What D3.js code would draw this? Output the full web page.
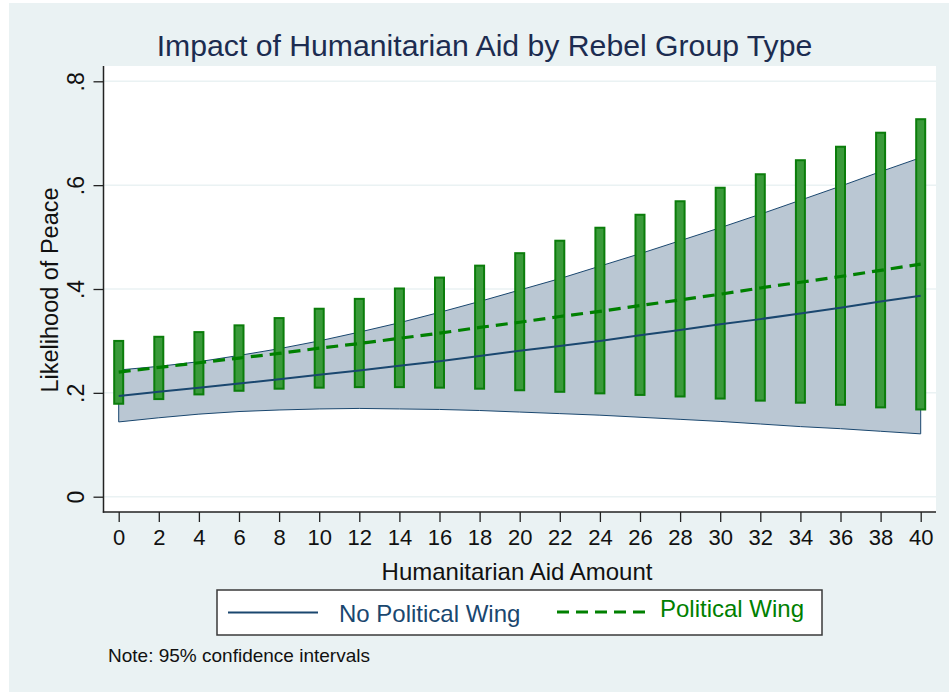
<!DOCTYPE html>
<html>
<head>
<meta charset="utf-8">
<script src="https://cdn.jsdelivr.net/npm/d3@7"></script>
<style>
  html, body { margin: 0; padding: 0; background: #ffffff; }
  svg { display: block; font-family: "Liberation Sans", Arial, Helvetica, sans-serif; }
</style>
</head>
<body>
<svg id="chart" width="949" height="692"></svg>
<script>
// Predicted probability of peace by humanitarian aid amount
const aidLevels = [0, 2, 4, 6, 8, 10, 12, 14, 16, 18, 20, 22, 24, 26, 28, 30, 32, 34, 36, 38, 40];

// Rebel groups without a political wing: estimate and 95% CI band
const noWingEst = [0.194, 0.202, 0.210, 0.218, 0.226, 0.235, 0.243, 0.252, 0.261, 0.271, 0.281, 0.290, 0.300, 0.311, 0.321, 0.332, 0.342, 0.353, 0.364, 0.376, 0.387];
const noWingLo  = [0.144, 0.152, 0.159, 0.164, 0.167, 0.169, 0.170, 0.169, 0.168, 0.166, 0.163, 0.160, 0.157, 0.153, 0.149, 0.145, 0.140, 0.135, 0.131, 0.126, 0.121];
const noWingHi  = [0.244, 0.251, 0.260, 0.272, 0.285, 0.300, 0.317, 0.335, 0.355, 0.376, 0.398, 0.420, 0.444, 0.468, 0.493, 0.518, 0.544, 0.571, 0.598, 0.626, 0.653];

// Rebel groups with a political wing: estimate and 95% CI bars
const wingEst = [0.240, 0.249, 0.258, 0.267, 0.276, 0.286, 0.295, 0.305, 0.315, 0.326, 0.336, 0.347, 0.357, 0.368, 0.379, 0.390, 0.402, 0.413, 0.424, 0.436, 0.448];
const wingLo  = [0.179, 0.188, 0.197, 0.204, 0.208, 0.210, 0.211, 0.211, 0.210, 0.208, 0.205, 0.202, 0.199, 0.196, 0.193, 0.189, 0.185, 0.181, 0.177, 0.172, 0.168];
const wingHi  = [0.300, 0.308, 0.317, 0.330, 0.344, 0.362, 0.381, 0.401, 0.422, 0.445, 0.469, 0.493, 0.518, 0.543, 0.569, 0.595, 0.621, 0.648, 0.674, 0.701, 0.727];

const xTickValues = aidLevels;
const yTickValues = [0, 0.2, 0.4, 0.6, 0.8];
const yTickLabels = ["0", ".2", ".4", ".6", ".8"];

const titleText = "Impact of Humanitarian Aid by Rebel Group Type";
const xTitle = "Humanitarian Aid Amount";
const yTitle = "Likelihood of Peace";
const seriesNames = ["No Political Wing", "Political Wing"];
const noteText = "Note: 95% confidence intervals";

// Colours
const bgColor = "#eaf2f3";
const navy = "#1a476f";
const bandFill = "#bac7d3";
const green = "#008000";
const barFill = "#3a9a3a";
const barStroke = "#0b7d0b";
const titleColor = "#1c2c50";

const svg = d3.select("#chart");

// graph region
svg.append("rect").attr("x", 9).attr("y", 3).attr("width", 940).attr("height", 689).attr("fill", bgColor);

// plot region
const plot = { left: 103.5, right: 936, top: 66, bottom: 512 };
svg.append("rect")
  .attr("x", plot.left).attr("y", plot.top)
  .attr("width", plot.right - plot.left).attr("height", plot.bottom - plot.top)
  .attr("fill", "#ffffff");

const x = d3.scaleLinear().domain([0, 40]).range([118.7, 920.7]);
const y = d3.scaleLinear().domain([0, 0.8]).range([496.7, 81.3]);

// gridlines
svg.append("g").selectAll("line").data(yTickValues).join("line")
  .attr("x1", plot.left).attr("x2", plot.right)
  .attr("y1", d => y(d)).attr("y2", d => y(d))
  .attr("stroke", bgColor).attr("stroke-width", 1.5);

const rows = aidLevels.map((a, i) => ({
  a, est0: noWingEst[i], lo0: noWingLo[i], hi0: noWingHi[i],
  est1: wingEst[i], lo1: wingLo[i], hi1: wingHi[i]
}));

// CI band, no political wing
svg.append("path").datum(rows)
  .attr("d", d3.area().x(d => x(d.a)).y0(d => y(d.lo0)).y1(d => y(d.hi0)))
  .attr("fill", bandFill).attr("stroke", navy).attr("stroke-width", 1);

// CI bars, political wing
const barW = 9;
svg.append("g").selectAll("rect").data(rows).join("rect")
  .attr("x", d => x(d.a) - barW / 2)
  .attr("width", barW)
  .attr("y", d => y(d.hi1))
  .attr("height", d => y(d.lo1) - y(d.hi1))
  .attr("fill", barFill).attr("stroke", barStroke).attr("stroke-width", 2);

// estimate lines
svg.append("path").datum(rows)
  .attr("d", d3.line().x(d => x(d.a)).y(d => y(d.est0)))
  .attr("fill", "none").attr("stroke", navy).attr("stroke-width", 2);

svg.append("path").datum(rows)
  .attr("d", d3.line().x(d => x(d.a)).y(d => y(d.est1)))
  .attr("fill", "none").attr("stroke", green).attr("stroke-width", 3.2)
  .attr("stroke-dasharray", "12,7");

// axes
const axisColor = "#222222";
const yAxis = svg.append("g")
  .attr("transform", `translate(${plot.left},0)`)
  .call(d3.axisLeft(y).tickValues(yTickValues).tickFormat((d, i) => yTickLabels[i]).tickSize(10).tickSizeOuter(0));
yAxis.select(".domain").remove();
yAxis.selectAll(".tick line").attr("stroke", axisColor).attr("stroke-width", 1.3);
yAxis.selectAll(".tick text")
  .attr("transform", "rotate(-90)")
  .attr("x", 0).attr("y", -20).attr("dy", 0)
  .attr("text-anchor", "middle")
  .attr("fill", "#111").style("font-size", "23px").style("font-family", "Liberation Sans, Arial, sans-serif");

const xAxis = svg.append("g")
  .attr("transform", `translate(0,${plot.bottom})`)
  .call(d3.axisBottom(x).tickValues(xTickValues).tickFormat(d3.format("d")).tickSize(10).tickSizeOuter(0));
xAxis.select(".domain").remove();
xAxis.selectAll(".tick line").attr("stroke", axisColor).attr("stroke-width", 1.3);
xAxis.selectAll(".tick text")
  .attr("y", 33).attr("dy", 0)
  .attr("fill", "#111").style("font-size", "22px").style("font-family", "Liberation Sans, Arial, sans-serif");

svg.append("line").attr("x1", plot.left).attr("x2", plot.left).attr("y1", plot.top).attr("y2", plot.bottom + 0.7)
  .attr("stroke", axisColor).attr("stroke-width", 1.5);
svg.append("line").attr("x1", plot.left - 0.7).attr("x2", plot.right).attr("y1", plot.bottom).attr("y2", plot.bottom)
  .attr("stroke", axisColor).attr("stroke-width", 1.5);

// titles
svg.append("text").attr("x", 484.5).attr("y", 55.5).attr("text-anchor", "middle")
  .attr("fill", titleColor).style("font-size", "30.2px").text(titleText);

svg.append("text").attr("x", 517).attr("y", 580).attr("text-anchor", "middle")
  .attr("fill", "#111").style("font-size", "24px").text(xTitle);

svg.append("text").attr("transform", `translate(58,290) rotate(-90)`).attr("text-anchor", "middle")
  .attr("fill", "#111").style("font-size", "23.5px").text(yTitle);

// legend
const legend = svg.append("g");
legend.append("rect").attr("x", 217).attr("y", 590).attr("width", 605).attr("height", 45)
  .attr("fill", "#ffffff").attr("stroke", "#3a3a3a").attr("stroke-width", 1.5);
legend.append("line").attr("x1", 228).attr("x2", 318).attr("y1", 612.5).attr("y2", 612.5)
  .attr("stroke", navy).attr("stroke-width", 2);
legend.append("text").attr("x", 339).attr("y", 622).attr("fill", navy)
  .style("font-size", "24px").text(seriesNames[0]);
legend.append("line").attr("x1", 557).attr("x2", 645).attr("y1", 612).attr("y2", 612)
  .attr("stroke", green).attr("stroke-width", 3.2).attr("stroke-dasharray", "12,7");
legend.append("text").attr("x", 660).attr("y", 617).attr("fill", green)
  .style("font-size", "24px").text(seriesNames[1]);

// note
svg.append("text").attr("x", 108).attr("y", 662).attr("fill", "#111")
  .style("font-size", "19px").text(noteText);
</script>
</body>
</html>
